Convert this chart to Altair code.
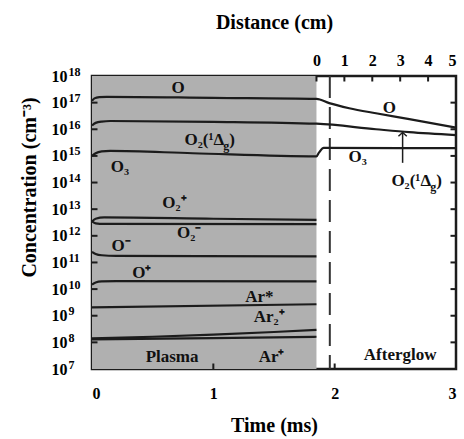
import altair as alt
import pandas as pd

# ---------------- data ----------------
time_ticks = [0, 1, 2, 3]
distance_ticks = [0, 1, 2, 3, 4, 5]
exponents = list(range(7, 19))
plasma_span = [0.0, 1.85]      # ms, shaded plasma region
dashed_t = [1.96]              # ms, dashed separator
distance_zero_t = 1.85         # time where distance = 0 cm
distance_end_t = 3.0           # time where distance = 5 cm
distance_end = 5.0

# log10 concentration (cm^-3) vs time (ms)
t_O = [0, 0.02, 0.06, 0.12, 1.0, 1.85, 1.955, 2.12, 2.34, 2.615, 3.0]
lg_O = [17.07, 17.16, 17.21, 17.22, 17.18, 17.14, 16.98, 16.79, 16.60, 16.38, 16.06]
t_O2d = [0, 0.03, 0.08, 0.15, 1.0, 1.85, 2.34, 2.615, 3.0]
lg_O2d = [16.14, 16.24, 16.29, 16.31, 16.28, 16.21, 16.0, 15.89, 15.78]
t_O3 = [0, 0.03, 0.08, 0.15, 0.83, 1.85, 1.87, 1.91, 3.0]
lg_O3 = [15.0, 15.10, 15.17, 15.19, 15.10, 14.98, 15.12, 15.30, 15.29]
t_O2p = [0, 0.03, 0.1, 1.0, 1.85]
lg_O2p = [12.54, 12.64, 12.69, 12.64, 12.60]
t_O2m = [0, 0.03, 0.1, 1.85]
lg_O2m = [12.54, 12.47, 12.45, 12.44]
t_Om = [0, 0.03, 0.08, 0.2, 1.85]
lg_Om = [11.40, 11.32, 11.27, 11.25, 11.23]
t_Op = [0, 0.03, 0.08, 0.2, 1.85]
lg_Op = [10.17, 10.25, 10.29, 10.30, 10.29]
t_Ars = [0, 1.85]
lg_Ars = [9.31, 9.43]
t_Ar2p = [0, 0.5, 1.0, 1.5, 1.85]
lg_Ar2p = [8.15, 8.21, 8.29, 8.39, 8.47]
t_Arp = [0, 1.0, 1.85]
lg_Arp = [8.11, 8.16, 8.21]

series = {
    "O": (t_O, lg_O), "O2(1Dg)": (t_O2d, lg_O2d), "O3": (t_O3, lg_O3),
    "O2+": (t_O2p, lg_O2p), "O2-": (t_O2m, lg_O2m), "O-": (t_Om, lg_Om),
    "O+": (t_Op, lg_Op), "Ar*": (t_Ars, lg_Ars), "Ar2+": (t_Ar2p, lg_Ar2p),
    "Ar+": (t_Arp, lg_Arp),
}

# text labels
label_text = ["O", "O₃", "O₂⁺", "O₂⁻", "O⁻", "O⁺", "Ar*", "Ar₂⁺", "Ar⁺",
              "Plasma", "O", "O₃", "Afterglow"]
label_t = [0.71, 0.23, 0.68, 0.80, 0.24, 0.41, 1.38, 1.46, 1.48,
           0.66, 2.45, 2.19, 2.54]
label_lg = [17.55, 14.59, 13.24, 12.12, 11.60, 10.62, 9.69, 8.94, 7.44,
            7.44, 16.78, 14.97, 7.51]
# O2(1Δg) labels (anchor at end of Δ)
delta_t = [1.09, 2.795]
delta_lg = [15.60, 14.04]
# arrow pointing to O2(1Δg) afterglow curve
arrow_t = [2.56]
arrow_lg_from = [14.74]
arrow_lg_to = [15.88]

# ---------------- tables ----------------
rows = []
for name, (ts, lgs) in series.items():
    for t, lg in zip(ts, lgs):
        rows.append({"species": name, "t": t, "c": 10 ** lg})
df_lines = pd.DataFrame(rows)

df_labels = pd.DataFrame({"t": label_t, "c": [10 ** v for v in label_lg], "text": label_text})
df_delta = pd.DataFrame({"t": delta_t, "c": [10 ** v for v in delta_lg]})
df_arrow = pd.DataFrame({"t": arrow_t, "c0": [10 ** v for v in arrow_lg_from],
                         "c1": [10 ** v for v in arrow_lg_to]})
df_plasma = pd.DataFrame({"t0": [plasma_span[0]], "t1": [plasma_span[1]],
                          "c0": [10.0 ** exponents[0]], "c1": [10.0 ** exponents[-1]]})
df_dash = pd.DataFrame({"t": dashed_t})
inner = exponents[1:-1]
df_side_ticks = pd.DataFrame(
    [{"t": 0.0, "c": 10.0 ** e} for e in inner] + [{"t": 3.0, "c": 10.0 ** e} for e in inner])
df_bottom_ticks = pd.DataFrame({"t": time_ticks[1:-1], "c": [10.0 ** exponents[0]] * (len(time_ticks) - 2)})
per_cm = (distance_end_t - distance_zero_t) / distance_end
top_tick_t = [distance_zero_t + d * per_cm for d in distance_ticks]
df_top_ticks = pd.DataFrame({"t": top_tick_t, "c": [10.0 ** exponents[-1]] * len(distance_ticks)})

# ---------------- scales / axes ----------------
FONT = "Liberation Serif"
INK = "#1c1c1c"

xscale = alt.Scale(domain=[0, 3], nice=False, zero=False)
yscale = alt.Scale(type="log", domain=[10.0 ** exponents[0], 10.0 ** exponents[-1]], nice=False)
decade_values = [10.0 ** e for e in exponents]

common_axis = dict(ticks=False, domain=False, grid=False, labelFont=FONT, labelFontWeight="bold",
                   labelFontSize=16, labelColor="black", titleFont=FONT, titleFontWeight="bold",
                   titleFontSize=20, titleColor="black", labelOverlap=False)

x_axis = alt.Axis(orient="bottom", values=time_ticks, format="d", labelPadding=16, title="Time (ms)",
                  titlePadding=14, **common_axis)
# "10" part of the y tick labels (with the axis title)
y_axis = alt.Axis(orient="left", values=decade_values, labelExpr="'10'", labelPadding=25,
                  title="Concentration (cm⁻³)", titleX=-63, titleY=111,
                  titleAlign="center", titleBaseline="middle", **common_axis)
# exponent part of the y tick labels
exp_common = dict(common_axis)
exp_common["labelFontSize"] = 12
y_exp_axis = alt.Axis(orient="left", values=decade_values,
                      labelExpr="format(round(log(datum.value) / LN10), 'd')",
                      labelAlign="left", labelPadding=24, labelOffset=-5, title=None, **exp_common)
top_axis = alt.Axis(orient="top", values=top_tick_t,
                    labelExpr=f"format(round((datum.value - {distance_zero_t}) / {per_cm}), 'd')",
                    labelPadding=8, title="Distance (cm)", titlePadding=20, **common_axis)

LBL = dict(font=FONT, fontWeight="bold", fontSize=17, color="#111", baseline="middle")

# ---------------- layers ----------------
plasma = alt.Chart(df_plasma).mark_rect(color="#b0b0b0").encode(
    x=alt.X("t0:Q", scale=xscale, axis=x_axis), x2="t1:Q",
    y=alt.Y("c0:Q", scale=yscale, axis=y_axis), y2="c1:Q")

dash = alt.Chart(df_dash).mark_rule(color="#333", strokeWidth=2, strokeDash=[22, 9]).encode(
    x=alt.X("t:Q", scale=xscale, axis=None))

lines = alt.Chart(df_lines).mark_line(color=INK, strokeWidth=2.2, interpolate="monotone").encode(
    x=alt.X("t:Q", scale=xscale, axis=None),
    y=alt.Y("c:Q", scale=yscale, axis=None),
    detail="species:N")

labels = alt.Chart(df_labels).mark_text(align="center", **LBL).encode(
    x=alt.X("t:Q", scale=xscale, axis=None), y=alt.Y("c:Q", scale=yscale, axis=None), text="text:N")

delta_main = alt.Chart(df_delta).mark_text(align="right", text="O₂(¹Δ", **LBL).encode(
    x=alt.X("t:Q", scale=xscale, axis=None), y=alt.Y("c:Q", scale=yscale, axis=None))
delta_g = alt.Chart(df_delta).mark_text(font=FONT, fontWeight="bold", fontSize=12, color="#111",
                                        align="left", baseline="middle", dy=6, dx=-1, text="g").encode(
    x=alt.X("t:Q", scale=xscale, axis=None), y=alt.Y("c:Q", scale=yscale, axis=None))
delta_paren = alt.Chart(df_delta).mark_text(align="left", dx=5, text=")", **LBL).encode(
    x=alt.X("t:Q", scale=xscale, axis=None), y=alt.Y("c:Q", scale=yscale, axis=None))

arrow_shaft = alt.Chart(df_arrow).mark_rule(color=INK, strokeWidth=1.5).encode(
    x=alt.X("t:Q", scale=xscale, axis=None),
    y=alt.Y("c0:Q", scale=yscale, axis=None), y2="c1:Q")
arrow_head = alt.Chart(df_arrow).mark_point(shape="M -1 0.9 L 0 0 L 1 0.9", size=70, filled=False,
                                            color=INK, strokeWidth=1.5, opacity=1).encode(
    x=alt.X("t:Q", scale=xscale, axis=None), y=alt.Y("c1:Q", scale=yscale, axis=None))

side_ticks = alt.Chart(df_side_ticks).mark_tick(orient="horizontal", size=11, thickness=2,
                                                color=INK, clip=True, opacity=1).encode(
    x=alt.X("t:Q", scale=xscale, axis=None), y=alt.Y("c:Q", scale=yscale, axis=y_exp_axis))
bottom_ticks = alt.Chart(df_bottom_ticks).mark_tick(orient="vertical", size=11, thickness=2,
                                                    color=INK, clip=True, opacity=1).encode(
    x=alt.X("t:Q", scale=xscale, axis=None), y=alt.Y("c:Q", scale=yscale, axis=None))
top_ticks = alt.Chart(df_top_ticks).mark_tick(orient="vertical", size=11, thickness=2,
                                              color=INK, clip=True, opacity=1).encode(
    x=alt.X("t:Q", scale=xscale, axis=top_axis), y=alt.Y("c:Q", scale=yscale, axis=None))

chart = alt.layer(plasma, dash, lines, labels, delta_main, delta_g, delta_paren,
                  arrow_shaft, arrow_head, side_ticks, bottom_ticks, top_ticks
                  ).resolve_axis(x="independent", y="independent").properties(
    width=364, height=293, autosize="none",
    padding={"left": 92, "top": 76, "right": 8, "bottom": 70},
).configure_view(stroke=INK, strokeWidth=2.5)

chart.save("out.html", embed_options={"renderer": "svg", "actions": False})
